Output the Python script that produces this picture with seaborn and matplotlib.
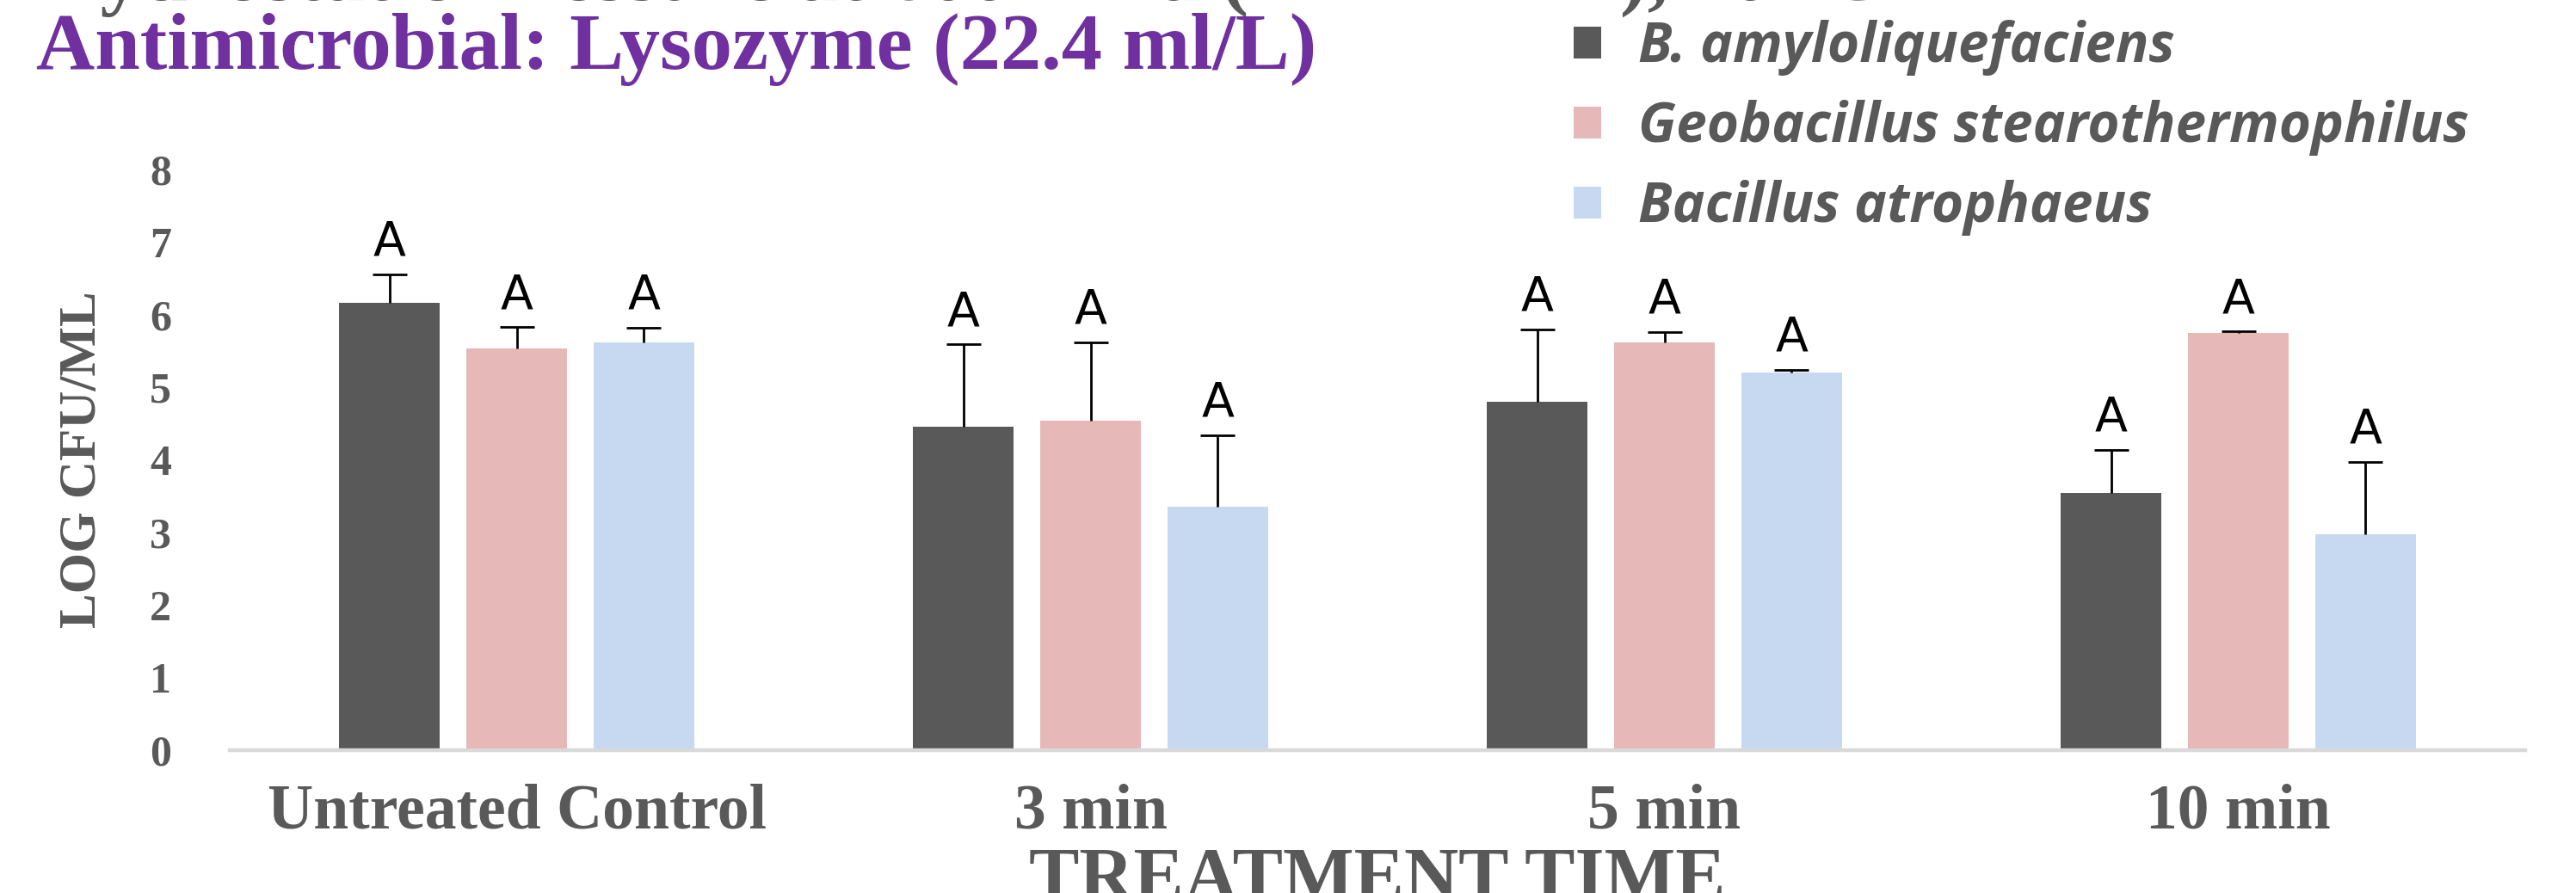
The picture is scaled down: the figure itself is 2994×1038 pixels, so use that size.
import numpy as np
import pandas as pd
import matplotlib
matplotlib.use("Agg")
import matplotlib.pyplot as plt
import seaborn as sns
from matplotlib.patches import Patch

# x categories and series
times = ["Untreated Control", "3 min", "5 min", "10 min"]
strains = ["B. amyloliquefaciens", "Geobacillus stearothermophilus", "Bacillus atrophaeus"]

# mean log CFU/mL
amylo = [6.16, 4.46, 4.80, 3.54]
geo = [5.54, 4.54, 5.62, 5.75]
atro = [5.62, 3.35, 5.20, 2.97]

# upper error bars
amylo_sd = [0.40, 1.13, 1.00, 0.60]
geo_sd = [0.29, 1.08, 0.14, 0.02]
atro_sd = [0.20, 0.99, 0.04, 1.00]

# significance letters
amylo_let = ["A", "A", "A", "A"]
geo_let = ["A", "A", "A", "A"]
atro_let = ["A", "A", "A", "A"]

yticks = [0, 1, 2, 3, 4, 5, 6, 7, 8]

colors = ["#595959", "#E6B8B7", "#C6D9F1"]
gray = "#595959"
serif = "Liberation Serif"

df = pd.DataFrame({
    "time": times * 3,
    "strain": np.repeat(strains, len(times)),
    "log": amylo + geo + atro,
})
sds = [amylo_sd, geo_sd, atro_sd]
lets = [amylo_let, geo_let, atro_let]

sns.set_style("white")
fig = plt.figure(figsize=(29.94, 10.38), dpi=100)
ax = fig.add_axes([0.0892, 0.160, 0.8911, 0.650])

sns.barplot(data=df, x="time", y="log", hue="strain", order=times, hue_order=strains,
            palette=colors, saturation=1, width=0.665, gap=0.21, errorbar=None,
            linewidth=0, legend=False, ax=ax)

# one-sided error bars and letters on top of each bar
for cont, sd, let in zip(ax.containers, sds, lets):
    bars = sorted(cont.patches, key=lambda b: b.get_x())
    xs = np.array([b.get_x() + b.get_width() / 2 for b in bars])
    ys = np.array([b.get_height() for b in bars])
    eb = ax.errorbar(xs, ys, yerr=[np.zeros(len(sd)), sd], fmt="none", ecolor="black",
                     elinewidth=2, capsize=14.4, capthick=2, zorder=3)
    eb[1][0].set_visible(False)  # no cap at the bar top
    for x, y, e, t in zip(xs, ys, sd, let):
        ax.annotate(t, (x, y + e), xytext=(0, 16), textcoords="offset points",
                    ha="center", va="baseline", fontsize=40, color="black")

ax.set_xlim(-0.5, 3.5)
ax.set_ylim(0, 8)
ax.set_yticks(yticks)
sns.despine(ax=ax, left=True)
ax.spines["bottom"].set_color("#D9D9D9")
ax.spines["bottom"].set_linewidth(3.2)
ax.tick_params(axis="both", length=0)
ax.tick_params(axis="y", pad=49)
ax.tick_params(axis="x", pad=28)
for lbl in ax.get_yticklabels():
    lbl.set_fontfamily(serif)
    lbl.set_fontweight("bold")
    lbl.set_fontsize(36)
    lbl.set_color(gray)
for lbl in ax.get_xticklabels():
    lbl.set_fontfamily(serif)
    lbl.set_fontweight("bold")
    lbl.set_fontsize(53)
    lbl.set_color(gray)

ax.set_xlabel("TREATMENT TIME", fontsize=63, family=serif, weight="bold",
              color=gray, labelpad=4)
ax.set_ylabel("LOG CFU/ML", fontsize=44, family=serif, weight="bold",
              color=gray, labelpad=36)

# titles (first line runs off the top edge in the original)
fig.text(42 / 2994, 1.0, "Hydrostatic Pressure at 600 MPa (HHP-HPP), 50 °C",
         fontsize=69, family=serif, weight="bold", color=gray, va="baseline")
fig.text(42 / 2994, 1 - 80 / 1038, "Antimicrobial: Lysozyme (22.4 ml/L)",
         fontsize=68, family=serif, weight="bold", color="#7030A0", va="baseline")

handles = [Patch(facecolor=c, edgecolor="none") for c in colors]
fig.legend(handles, strains, loc="upper left", bbox_to_anchor=(1829 / 2994, 1 - 23 / 1038),
           frameon=False, prop=dict(family=["Open Sans", "DejaVu Sans"], style="italic",
                                    weight="bold", size=46),
           labelcolor=gray, handlelength=0.5, handleheight=0.5, handletextpad=0.68,
           labelspacing=0.44, borderpad=0, borderaxespad=0)

fig.savefig("out.png", dpi=100)
